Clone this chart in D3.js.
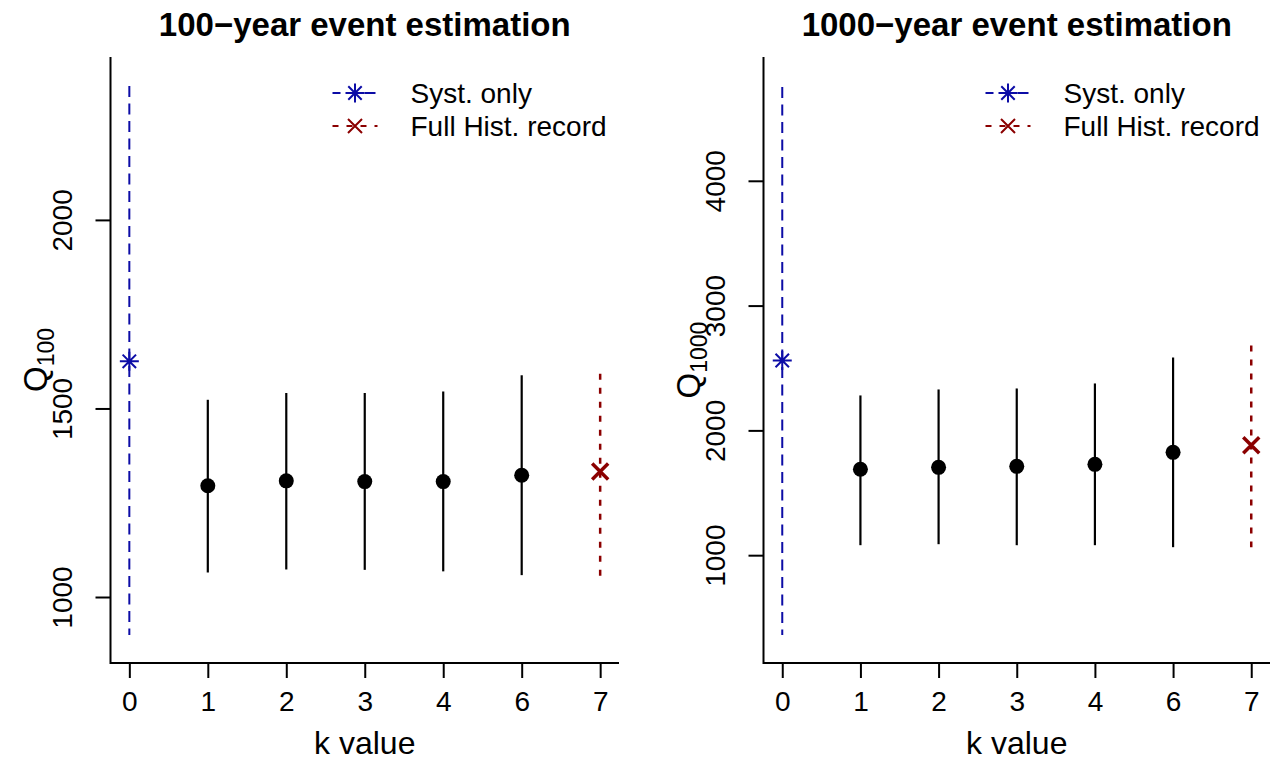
<!DOCTYPE html>
<html>
<head>
<meta charset="utf-8">
<script src="https://cdn.jsdelivr.net/npm/d3@7"></script>
<style>
  html, body { margin: 0; padding: 0; background: #ffffff; }
  svg { display: block; }
  text { font-family: "Liberation Sans", Arial, Helvetica, sans-serif; fill: #000; }
</style>
</head>
<body>
<svg id="chart" width="1274" height="761"></svg>
<script>
// k values on the x axis (0 = systematic record only, 7 = full historical record)
const kLabels = ["0", "1", "2", "3", "4", "6", "7"];
const kValues = ["1", "2", "3", "4", "6"];

// Q100: estimates with interval bounds for each k
const q100Est = [1295, 1308, 1306, 1306, 1323];
const q100Lo  = [1065, 1073, 1072, 1068, 1058];
const q100Hi  = [1523, 1541, 1541, 1545, 1588];
const q100Syst = [1625, 899, 2355];      // estimate, lower, upper
const q100Full = [1333, 1053, 1592];     // estimate, lower, upper
const q100Ticks = [1000, 1500, 2000];
const q100Lim = [825, 2432];

// Q1000: estimates with interval bounds for each k
const q1000Est = [1688, 1704, 1712, 1728, 1824];
const q1000Lo  = [1080, 1088, 1080, 1080, 1064];
const q1000Hi  = [2280, 2328, 2336, 2376, 2584];
const q1000Syst = [2560, 360, 4752];
const q1000Full = [1880, 1064, 2680];
const q1000Ticks = [1000, 2000, 3000, 4000];
const q1000Lim = [136, 4992];

const legendLabels = ["Syst. only", "Full Hist. record"];
const titles = ["100\u2212year event estimation", "1000\u2212year event estimation"];
const xTitle = "k value";

const BLUE = "#0c0ca6";
const RED = "#8b0000";
const BLUE_DASH = "11,6.5";
const RED_DASH = "6,8";

const svg = d3.select("#chart");

function asterisk(g, cx, cy, r, color, w) {
  const d = r * Math.SQRT1_2;
  const p = `M${cx - r},${cy}L${cx + r},${cy}M${cx},${cy - r}L${cx},${cy + r}` +
            `M${cx - d},${cy - d}L${cx + d},${cy + d}M${cx - d},${cy + d}L${cx + d},${cy - d}`;
  g.append("path").attr("d", p).attr("stroke", color).attr("stroke-width", w).attr("fill", "none");
}
function cross(g, cx, cy, r, color, w) {
  const p = `M${cx - r},${cy - r}L${cx + r},${cy + r}M${cx - r},${cy + r}L${cx + r},${cy - r}`;
  g.append("path").attr("d", p).attr("stroke", color).attr("stroke-width", w).attr("fill", "none");
}

function drawPanel(cfg) {
  const { x0, x1, y0, y1 } = cfg;
  const g = svg.append("g");

  const x = d3.scalePoint().domain(kLabels).range([x0, x1]).padding(0.24);
  const y = d3.scaleLinear().domain(cfg.ylim).range([y1, y0]);

  // L-shaped frame
  g.append("path")
    .attr("d", `M${x0},${y0}L${x0},${y1}L${x1},${y1}`)
    .attr("fill", "none").attr("stroke", "#000").attr("stroke-width", 2);

  // y axis with rotated labels
  const ya = g.append("g").attr("transform", `translate(${x0},0)`)
    .call(d3.axisLeft(y).tickValues(cfg.ticks).tickSize(15).tickFormat(d3.format("d")));
  ya.select(".domain").remove();
  ya.selectAll(".tick line").attr("stroke", "#000").attr("stroke-width", 2);
  ya.selectAll(".tick text")
    .attr("transform", "rotate(-90)")
    .attr("x", 0).attr("y", -39).attr("dy", 0)
    .attr("text-anchor", "middle")
    .style("font-size", "28px")
    .style("font-family", '"Liberation Sans", Arial, sans-serif')
    .attr("fill", "#000");

  // x axis
  const xa = g.append("g").attr("transform", `translate(0,${y1})`)
    .call(d3.axisBottom(x).tickSize(15));
  xa.select(".domain").remove();
  xa.selectAll(".tick line").attr("stroke", "#000").attr("stroke-width", 2);
  xa.selectAll(".tick text")
    .attr("y", 48).attr("dy", 0)
    .style("font-size", "28px")
    .style("font-family", '"Liberation Sans", Arial, sans-serif')
    .attr("fill", "#000");

  // title and axis labels
  const cx = (x0 + x1) / 2;
  g.append("text").attr("x", cx).attr("y", 36).attr("text-anchor", "middle")
    .style("font-size", "33px").style("font-weight", "bold").text(cfg.title);
  g.append("text").attr("x", cx).attr("y", 754).attr("text-anchor", "middle")
    .style("font-size", "32px").text(xTitle);
  const yl = g.append("text")
    .attr("transform", `translate(${cfg.ylabX},${(y0 + y1) / 2}) rotate(-90)`)
    .attr("text-anchor", "middle").style("font-size", "33px");
  yl.append("tspan").text("Q");
  yl.append("tspan").attr("dy", 7).style("font-size", "23px").text(cfg.sub);

  // systematic-only estimate (k = 0)
  const xs = x("0");
  g.append("line").attr("x1", xs).attr("x2", xs)
    .attr("y1", y(cfg.syst[2])).attr("y2", y(cfg.syst[1]))
    .attr("stroke", BLUE).attr("stroke-width", 2).attr("stroke-dasharray", BLUE_DASH);
  asterisk(g, xs, y(cfg.syst[0]), 9.5, BLUE, 2);

  // intermediate k estimates
  kValues.forEach((k, i) => {
    g.append("line").attr("x1", x(k)).attr("x2", x(k))
      .attr("y1", y(cfg.hi[i])).attr("y2", y(cfg.lo[i]))
      .attr("stroke", "#000").attr("stroke-width", 2.2);
    g.append("circle").attr("cx", x(k)).attr("cy", y(cfg.est[i])).attr("r", 7.5).attr("fill", "#000");
  });

  // full historical record (k = 7)
  const xf = x("7");
  g.append("line").attr("x1", xf).attr("x2", xf)
    .attr("y1", y(cfg.full[2])).attr("y2", y(cfg.full[1]))
    .attr("stroke", RED).attr("stroke-width", 2.5).attr("stroke-dasharray", RED_DASH);
  cross(g, xf, y(cfg.full[0]), 8, RED, 3.5);

  // legend
  const lx = x0 + 222, lw = 45, tx = x0 + 300;
  const rows = [93, 126];
  g.append("line").attr("x1", lx).attr("x2", lx + lw).attr("y1", rows[0]).attr("y2", rows[0])
    .attr("stroke", BLUE).attr("stroke-width", 2).attr("stroke-dasharray", BLUE_DASH)
    .attr("stroke-dashoffset", 3);
  asterisk(g, lx + lw / 2, rows[0], 9.5, BLUE, 2);
  g.append("line").attr("x1", lx).attr("x2", lx + lw).attr("y1", rows[1]).attr("y2", rows[1])
    .attr("stroke", RED).attr("stroke-width", 2).attr("stroke-dasharray", RED_DASH);
  cross(g, lx + lw / 2, rows[1], 7, RED, 2);
  legendLabels.forEach((t, i) => {
    g.append("text").attr("x", tx).attr("y", rows[i] + 10).style("font-size", "28px").text(t);
  });
}

drawPanel({
  x0: 110.5, x1: 619, y0: 57, y1: 663,
  ylim: q100Lim, ticks: q100Ticks,
  est: q100Est, lo: q100Lo, hi: q100Hi, syst: q100Syst, full: q100Full,
  title: titles[0], sub: "100", ylabX: 47
});
drawPanel({
  x0: 763.5, x1: 1270, y0: 57, y1: 663,
  ylim: q1000Lim, ticks: q1000Ticks,
  est: q1000Est, lo: q1000Lo, hi: q1000Hi, syst: q1000Syst, full: q1000Full,
  title: titles[1], sub: "1000", ylabX: 700
});
</script>
</body>
</html>
